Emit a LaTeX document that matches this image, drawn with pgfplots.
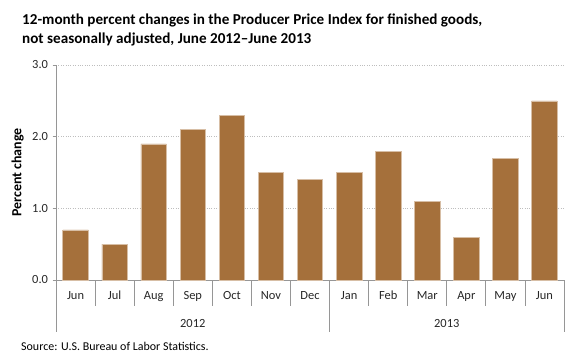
\documentclass[border=0pt]{standalone}
\usepackage{pgfplots}
\pgfplotsset{compat=1.18}
\usepackage{fontspec}
\setmainfont{Carlito}
\definecolor{barc}{RGB}{165,112,59}
\definecolor{baredge}{RGB}{215,190,165}
\definecolor{axc}{RGB}{150,150,150}
\definecolor{gridc}{RGB}{190,190,190}
\begin{document}
\begin{tikzpicture}[x=1bp,y=1bp]
\path[use as bounding box] (0,0) rectangle (580,361);
\node[anchor=base west,align=left,font=\fontsize{15.2}{19}\selectfont\bfseries,inner sep=0pt] at (22,337) {12-month percent changes in the Producer Price Index for finished goods,};
\node[anchor=base west,align=left,font=\fontsize{15.2}{19}\selectfont\bfseries,inner sep=0pt] at (22,318) {not seasonally adjusted, June 2012--June 2013};
\node[anchor=base west,font=\fontsize{12}{14}\selectfont,inner sep=0pt] at (21,10.5) {Source: U.S. Bureau of Labor Statistics.};
\begin{axis}[
  at={(56bp,81bp)}, anchor=south west,
  scale only axis, width=508bp, height=215bp,
  xmin=-0.5, xmax=12.5, ymin=0, ymax=3,
  ytick={0,1,2,3},
  yticklabel style={/pgf/number format/fixed,/pgf/number format/fixed zerofill,/pgf/number format/precision=1},
  /pgf/number format/assume math mode=true,
  xtick={0,...,12},
  xticklabels={Jun,Jul,Aug,Sep,Oct,Nov,Dec,Jan,Feb,Mar,Apr,May,Jun},
  x tick style={draw=none},
  y tick style={draw=axc, line width=0.8bp},
  tick align=outside, major tick length=3.5bp,
  ticklabel style={font=\fontsize{12.5}{14}\selectfont, text=black!85},
  xticklabel style={yshift=-4bp},
  yticklabel style={xshift=-1bp},
  axis x line*=bottom, axis y line*=left,
  axis line style={draw=axc, line width=0.8bp, -},
  ymajorgrids, grid style={draw=gridc, dotted, line width=0.7bp},
  ylabel={\bfseries Percent change},
  ylabel style={font=\fontsize{14}{16}\selectfont, at={(axis description cs:-0.0754,0.5)}, anchor=center},
  clip=false,
]
\addplot[ybar, bar width=25.5bp, fill=barc, draw=baredge, line width=0.6bp] coordinates {
(0,0.7) (1,0.5) (2,1.9) (3,2.1) (4,2.3) (5,1.5) (6,1.4)
(7,1.5) (8,1.8) (9,1.1) (10,0.6) (11,1.7) (12,2.5)};
\pgfplotsinvokeforeach{0.5,1.5,2.5,3.5,4.5,5.5,7.5,8.5,9.5,10.5,11.5}{
  \draw[axc, line width=0.8bp] (axis cs:#1,0) -- ([yshift=-25.5bp]axis cs:#1,0);
}
\pgfplotsinvokeforeach{-0.5,6.5,12.5}{
  \draw[axc, line width=0.8bp] (axis cs:#1,0) -- ([yshift=-52bp]axis cs:#1,0);
}
\node[font=\fontsize{12.5}{14}\selectfont, text=black!85] at ([yshift=-43bp]axis cs:3,0) {2012};
\node[font=\fontsize{12.5}{14}\selectfont, text=black!85] at ([yshift=-43bp]axis cs:9.5,0) {2013};
\end{axis}
\end{tikzpicture}
\end{document}
